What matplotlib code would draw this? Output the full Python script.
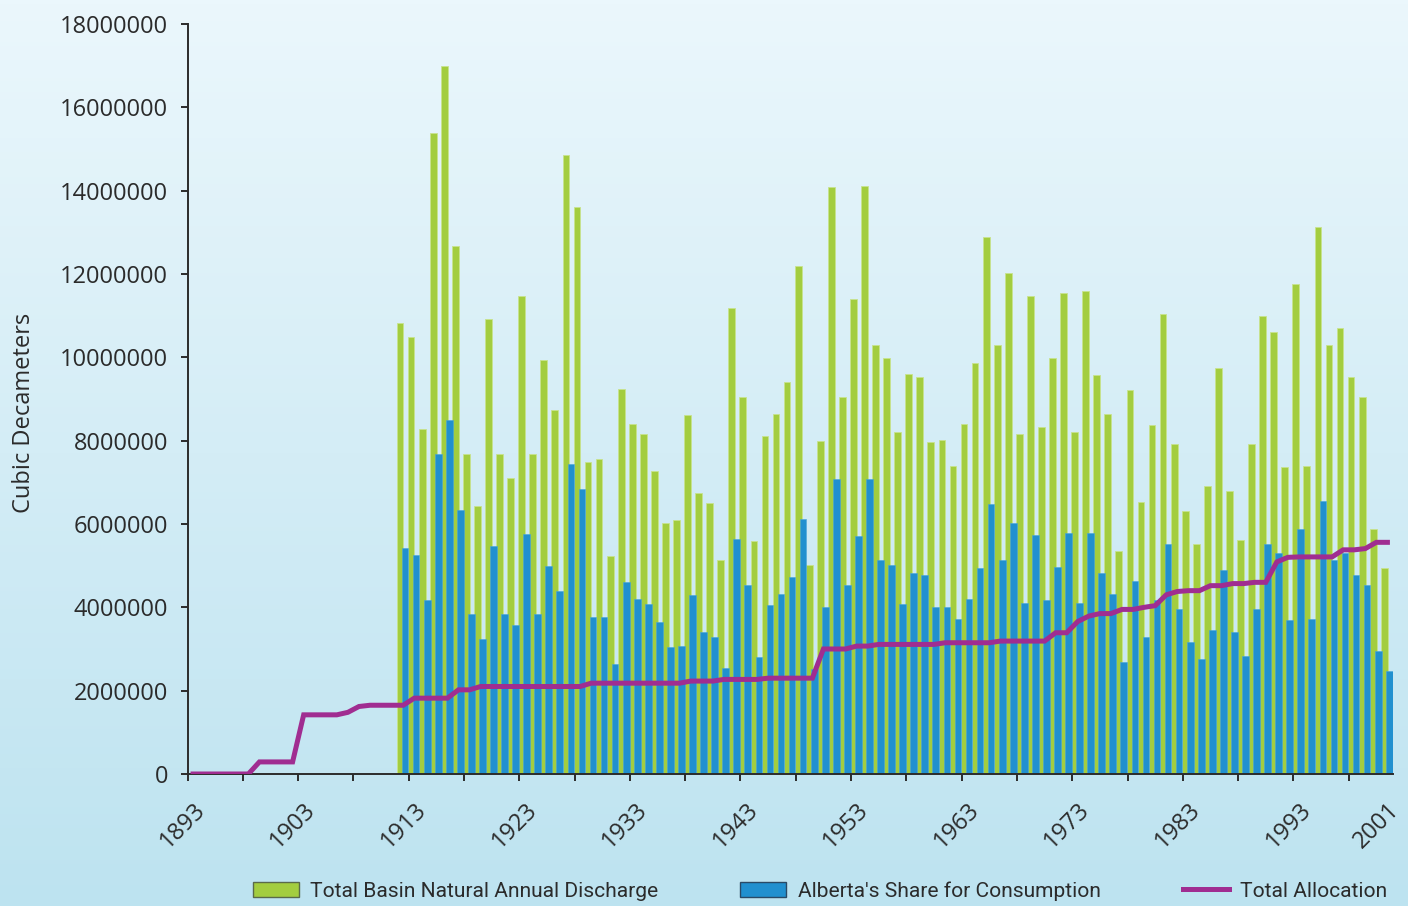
import numpy as np
import matplotlib
matplotlib.use('Agg')
import matplotlib.pyplot as plt
from matplotlib.patches import Patch
from matplotlib.lines import Line2D
from matplotlib.transforms import ScaledTranslation

# years on the category axis
years = list(range(1893, 2002))
bar_years = list(range(1912, 2002))

# Total Basin Natural Annual Discharge (millions of cubic decameters)
discharge = [
    10.82, 10.50, 8.28, 15.39, 17.00, 12.68, 7.68, 6.43, 10.91, 7.68,
    7.11, 11.47, 7.68, 9.94, 8.73, 14.86, 13.61, 7.48, 7.56, 5.22,
    9.25, 8.41, 8.16, 7.28, 6.02, 6.10, 8.61, 6.75, 6.51, 5.14,
    11.18, 9.05, 5.58, 8.12, 8.64, 9.41, 12.19, 5.01, 8.00, 14.09,
    9.05, 11.39, 14.12, 10.30, 9.98, 8.21, 9.61, 9.53, 7.97, 8.01,
    7.39, 8.41, 9.86, 12.89, 10.30, 12.03, 8.16, 11.47, 8.33, 9.98,
    11.55, 8.21, 11.59, 9.58, 8.65, 5.34, 9.22, 6.52, 8.37, 11.03,
    7.92, 6.31, 5.51, 6.91, 9.74, 6.80, 5.62, 7.92, 10.99, 10.62,
    7.36, 11.75, 7.39, 13.13, 10.30, 10.71, 9.54, 9.05, 5.87, 4.94,
]

# Alberta's Share for Consumption
alberta = [
    5.42, 5.25, 4.17, 7.68, 8.49, 6.34, 3.85, 3.24, 5.46, 3.85,
    3.58, 5.75, 3.85, 4.98, 4.38, 7.45, 6.83, 3.77, 3.77, 2.64,
    4.61, 4.21, 4.09, 3.65, 3.05, 3.08, 4.30, 3.41, 3.29, 2.55,
    5.63, 4.53, 2.80, 4.05, 4.33, 4.73, 6.11, 2.52, 4.00, 7.08,
    4.53, 5.70, 7.08, 5.14, 5.02, 4.09, 4.82, 4.77, 4.00, 4.00,
    3.72, 4.21, 4.94, 6.47, 5.14, 6.02, 4.10, 5.74, 4.17, 4.97,
    5.78, 4.10, 5.78, 4.82, 4.33, 2.68, 4.62, 3.29, 4.18, 5.51,
    3.97, 3.17, 2.76, 3.45, 4.90, 3.41, 2.84, 3.97, 5.51, 5.31,
    3.69, 5.87, 3.73, 6.55, 5.14, 5.31, 4.77, 4.54, 2.96, 2.48,
]

# Total Allocation, 1893-2001
allocation = [
    0.00, 0.00, 0.00, 0.00, 0.00, 0.00, 0.29, 0.29, 0.29, 0.29,
    1.42, 1.42, 1.42, 1.42, 1.48, 1.62, 1.65, 1.65, 1.65, 1.65,
    1.82, 1.82, 1.82, 1.82, 2.02, 2.02, 2.10, 2.10, 2.10, 2.10,
    2.10, 2.10, 2.10, 2.10, 2.10, 2.10, 2.18, 2.18, 2.18, 2.18,
    2.18, 2.18, 2.18, 2.18, 2.18, 2.23, 2.23, 2.23, 2.27, 2.27,
    2.27, 2.27, 2.30, 2.30, 2.30, 2.30, 2.30, 3.00, 3.00, 3.00,
    3.07, 3.07, 3.11, 3.11, 3.11, 3.11, 3.11, 3.11, 3.15, 3.15,
    3.15, 3.15, 3.15, 3.19, 3.19, 3.19, 3.19, 3.19, 3.39, 3.39,
    3.66, 3.79, 3.85, 3.85, 3.95, 3.95, 4.00, 4.04, 4.30, 4.38,
    4.40, 4.40, 4.52, 4.52, 4.57, 4.57, 4.60, 4.60, 5.09, 5.20,
    5.21, 5.21, 5.21, 5.21, 5.38, 5.38, 5.41, 5.56, 5.56,
]

label_years = [1893, 1903, 1913, 1923, 1933, 1943, 1953, 1963, 1973, 1983, 1993, 2001]

GREEN = '#a3cd3f'
BLUE = '#2190cf'
MAGENTA = '#a02d91'
DARK = '#2b2b2b'

plt.rcParams['font.family'] = ['Open Sans', 'DejaVu Sans']

fig = plt.figure(figsize=(14.08, 9.06), dpi=100)

# gradient background
bg = fig.add_axes([0, 0, 1, 1], zorder=-10)
grad = np.linspace(0, 1, 256).reshape(-1, 1)
cmap = matplotlib.colors.LinearSegmentedColormap.from_list('bg', ['#ebf7fc', '#bde3f0'])
bg.imshow(grad, aspect='auto', cmap=cmap, extent=[0, 1, 0, 1])
bg.axis('off')

ax = fig.add_axes([0.1332, 0.1457, 0.8561, 0.8278])
ax.patch.set_alpha(0)

scale = 1e6
bx = np.array(bar_years, dtype=float)
ax.bar(bx - 0.285, np.array(discharge) * scale, width=0.61, color=GREEN,
       edgecolor='#c8e38e', linewidth=0.6, zorder=1)
ax.bar(bx + 0.165, np.array(alberta) * scale, width=0.61, color=BLUE,
       edgecolor='#4aa6da', linewidth=0.4, zorder=2)
ax.plot(years, np.array(allocation) * scale, color=MAGENTA, lw=3.6,
        solid_joinstyle='miter', zorder=3)

ax.set_xlim(1892.5, 2001.5)
ax.set_ylim(0, 18000000)
ax.set_yticks(np.arange(0, 18000001, 2000000))
ax.set_yticklabels([str(v) for v in range(0, 18000001, 2000000)])

ax.set_xticks(label_years)
ax.set_xticklabels([str(y) for y in label_years], rotation=45, ha='right',
                   va='top', rotation_mode='anchor')
ax.set_xticks(np.arange(1892.5, 2001.5, 5), minor=True)
shift = ScaledTranslation(-14 / 100, 2 / 100, fig.dpi_scale_trans)
for lab in ax.get_xticklabels():
    lab.set_transform(lab.get_transform() + shift)

for s in ['top', 'right']:
    ax.spines[s].set_visible(False)
for s in ['left', 'bottom']:
    ax.spines[s].set_color(DARK)
    ax.spines[s].set_linewidth(1.4)

ax.tick_params(axis='y', length=5, width=1.4, color=DARK, pad=9,
               labelsize=17, labelcolor=DARK)
ax.tick_params(axis='x', which='major', length=0, pad=17,
               labelsize=17, labelcolor=DARK)
ax.tick_params(axis='x', which='minor', length=5, width=1.4, color=DARK)

ax.set_ylabel('Cubic Decameters', fontsize=17, color=DARK)
ax.yaxis.set_label_coords(-0.1257, 0.481)

handles = [
    Patch(facecolor=GREEN, edgecolor='#5a6a4a', linewidth=1.0),
    Patch(facecolor=BLUE, edgecolor='#2a4a66', linewidth=1.0),
    Line2D([0], [0], color=MAGENTA, lw=3.6),
]
labels = ['Total Basin Natural Annual Discharge',
          "Alberta's Share for Consumption",
          'Total Allocation']
fig.legend(handles, labels, loc='center', bbox_to_anchor=(0.5824, 0.0166),
           ncol=3, frameon=False, handlelength=2.2, handletextpad=0.55,
           columnspacing=3.9,
           prop={'family': ['Roboto', 'Open Sans'], 'size': 15.1})
for t in fig.legends[0].get_texts():
    t.set_color(DARK)

fig.savefig('out.png', dpi=100)
